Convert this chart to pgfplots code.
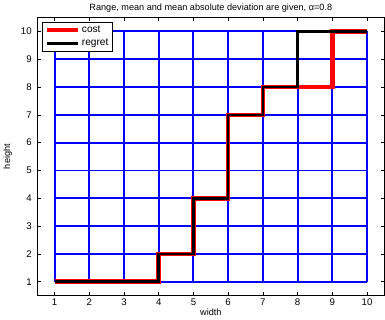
\documentclass[border=0pt]{standalone}
\usepackage{pgfplots}
\pgfplotsset{compat=1.18}
\usepackage{fontspec}
\setmainfont{Liberation Sans}
\definecolor{gridblue}{RGB}{0,0,255}
\begin{document}
\begin{tikzpicture}
\begin{axis}[
  scale only axis,
  width=342pt, height=274pt,
  xmin=0.5, xmax=10.5, ymin=0.5, ymax=10.5,
  xtick={1,...,10}, ytick={1,...,10},
  tick align=inside,
  major tick length=3.5pt,
  axis line style={line width=1.2pt},
  tick style={black, line width=0.6pt},
  /pgf/number format/assume math mode=true,
  tick label style={font=\fontsize{9.5}{10}\selectfont},
  yticklabel style={xshift=-2pt},
  label style={font=\fontsize{9}{10}\selectfont},
  title style={font=\fontsize{9}{10}\selectfont, yshift=-4pt},
  title={Range, mean and mean absolute deviation are given, α=0.8},
  xlabel={width}, ylabel={height},
  xlabel style={yshift=4pt},
  ylabel style={yshift=2pt},
  legend style={font=\fontsize{10}{11}\selectfont, draw=black, line width=0.8pt, at={(0.015,0.985)}, anchor=north west, inner sep=2pt, row sep=1pt},
  legend image code/.code={\draw[#1] (0pt,0pt) -- (30pt,0pt);},
  legend cell align=left,
  clip=false,
]
\pgfplotsset{every axis plot/.append style={line join=miter}}
% grid lines as data
\addplot[gridblue, line width=1.9pt, forget plot] coordinates {(1,1) (1,10)};
\addplot[gridblue, line width=1.9pt, forget plot] coordinates {(2,1) (2,10)};
\addplot[gridblue, line width=1.9pt, forget plot] coordinates {(3,1) (3,10)};
\addplot[gridblue, line width=1.9pt, forget plot] coordinates {(4,1) (4,10)};
\addplot[gridblue, line width=1.9pt, forget plot] coordinates {(5,1) (5,10)};
\addplot[gridblue, line width=1.9pt, forget plot] coordinates {(6,1) (6,10)};
\addplot[gridblue, line width=1.9pt, forget plot] coordinates {(7,1) (7,10)};
\addplot[gridblue, line width=1.9pt, forget plot] coordinates {(8,1) (8,10)};
\addplot[gridblue, line width=1.9pt, forget plot] coordinates {(9,1) (9,10)};
\addplot[gridblue, line width=1.9pt, forget plot] coordinates {(10,1) (10,10)};
\addplot[gridblue, line width=1.9pt, forget plot] coordinates {(1,1) (10,1)};
\addplot[gridblue, line width=1.9pt, forget plot] coordinates {(1,2) (10,2)};
\addplot[gridblue, line width=1.9pt, forget plot] coordinates {(1,3) (10,3)};
\addplot[gridblue, line width=1.9pt, forget plot] coordinates {(1,4) (10,4)};
\addplot[gridblue, line width=1.9pt, forget plot] coordinates {(1,5) (10,5)};
\addplot[gridblue, line width=1.9pt, forget plot] coordinates {(1,6) (10,6)};
\addplot[gridblue, line width=1.9pt, forget plot] coordinates {(1,7) (10,7)};
\addplot[gridblue, line width=1.9pt, forget plot] coordinates {(1,8) (10,8)};
\addplot[gridblue, line width=1.9pt, forget plot] coordinates {(1,9) (10,9)};
\addplot[gridblue, line width=1.9pt, forget plot] coordinates {(1,10) (10,10)};
% cost
\addplot[red, line width=4.5pt] coordinates {
(1,1) (4,1) (4,2) (5,2) (5,4) (6,4) (6,7) (7,7) (7,8) (8,8) (9,8) (9,10) (10,10)};
\addlegendentry{cost}
% regret
\addplot[black, line width=2.5pt] coordinates {
(1,1) (4,1) (4,2) (5,2) (5,4) (6,4) (6,7) (7,7) (7,8) (8,8) (8,10) (9,10) (10,10)};
\addlegendentry{regret}
\end{axis}
\end{tikzpicture}
\end{document}
